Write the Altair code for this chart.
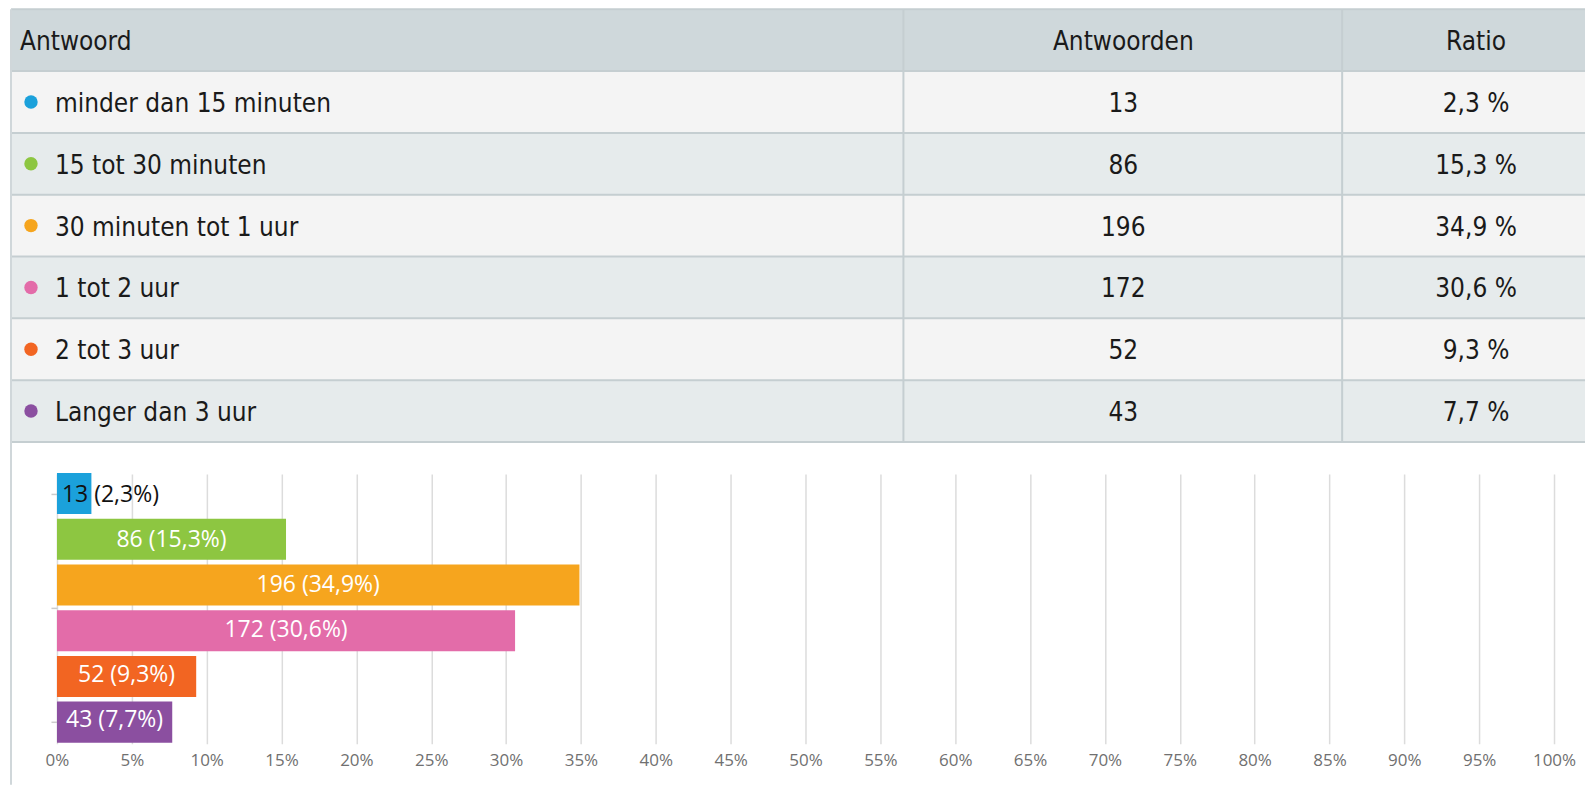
import altair as alt
import pandas as pd

# ---- data -------------------------------------------------------------
categories = ["minder dan 15 minuten", "15 tot 30 minuten", "30 minuten tot 1 uur",
              "1 tot 2 uur", "2 tot 3 uur", "Langer dan 3 uur"]
counts = [13, 86, 196, 172, 52, 43]
ratios = [2.3, 15.3, 34.9, 30.6, 9.3, 7.7]
colors = ["#1ba1db", "#8dc641", "#f6a51e", "#e36ca9", "#f26522", "#8b4fa0"]
headers = ["Antwoord", "Antwoorden", "Ratio"]
x_ticks = [0, 0.05, 0.10, 0.15, 0.20, 0.25, 0.30, 0.35, 0.40, 0.45, 0.50,
           0.55, 0.60, 0.65, 0.70, 0.75, 0.80, 0.85, 0.90, 0.95, 1.0]

# ---- style ------------------------------------------------------------
TABLE_FONT = "DejaVu Sans Condensed, Roboto, sans-serif"
BAR_FONT = "Open Sans"
HEADER_BG = "#cfd8db"
ROW_BG = ["#f4f4f4", "#e6ebec"]
BORDER = "#c5ced1"
TEXT = "#1a1a1a"
W = 1578

row_order = ["__header__"] + categories

body = pd.DataFrame({
    "row": categories,
    "count": counts,
    "ratio": ratios,
    "color": colors,
    "bg": [ROW_BG[i % 2] for i in range(len(categories))],
    "count_txt": [str(c) for c in counts],
    "ratio_txt": [f"{r:.1f} %".replace(".", ",") for r in ratios],
    "bar_txt": [f"{c} ({r:.1f}%)".replace(".", ",") for c, r in zip(counts, ratios)],
})
body["frac"] = body["ratio"] / 100.0
header = pd.DataFrame({
    "row": ["__header__"],
    "h1": [headers[0]], "h2": [headers[1]], "h3": [headers[2]],
    "bg": [HEADER_BG],
})
allrows = pd.DataFrame({"row": row_order})
one = pd.DataFrame({"a": [0]})

yscale = alt.Scale(domain=row_order, range=[1, 434], paddingInner=0, paddingOuter=0)
ty = alt.Y("row:N", scale=yscale, axis=None)

# ---- table --------------------------------------------------------------
hdr_rect = alt.Chart(header).mark_rect(strokeWidth=0).encode(
    y=ty, x=alt.value(3), x2=alt.value(W), fill=alt.Fill("bg:N", scale=None))
body_rect = alt.Chart(body).mark_rect(strokeWidth=0).encode(
    y=ty, x=alt.value(3), x2=alt.value(W), fill=alt.Fill("bg:N", scale=None))
hlines = alt.Chart(allrows).mark_rule(color=BORDER, strokeWidth=2).encode(
    y=alt.Y("row:N", scale=yscale, axis=None, bandPosition=0),
    x=alt.value(3), x2=alt.value(W))
bottom_line = alt.Chart(one).mark_rule(color=BORDER, strokeWidth=2).encode(
    y=alt.value(434), x=alt.value(3), x2=alt.value(W))
div1 = alt.Chart(one).mark_rule(color=BORDER, strokeWidth=2).encode(
    x=alt.value(896), y=alt.value(1), y2=alt.value(434))
div2 = alt.Chart(one).mark_rule(color=BORDER, strokeWidth=2).encode(
    x=alt.value(1335), y=alt.value(1), y2=alt.value(434))
left_border = alt.Chart(one).mark_rule(color="#d0d7da", strokeWidth=2).encode(
    x=alt.value(3), y=alt.value(1), y2=alt.value(777))

txt_kw = dict(font=TABLE_FONT, fontSize=26, color=TEXT, baseline="middle", dy=2)
h1 = alt.Chart(header).mark_text(align="left", **txt_kw).encode(
    y=ty, x=alt.value(12), text="h1:N")
h2 = alt.Chart(header).mark_text(align="center", **txt_kw).encode(
    y=ty, x=alt.value(1116), text="h2:N")
h3 = alt.Chart(header).mark_text(align="center", **txt_kw).encode(
    y=ty, x=alt.value(1469), text="h3:N")
bullets = alt.Chart(body).mark_circle(size=180, opacity=1).encode(
    y=ty, x=alt.value(23), color=alt.Color("color:N", scale=None))
labels = alt.Chart(body).mark_text(align="left", **txt_kw).encode(
    y=ty, x=alt.value(47), text="row:N")
cnt = alt.Chart(body).mark_text(align="center", **txt_kw).encode(
    y=ty, x=alt.value(1116), text="count_txt:N")
rat = alt.Chart(body).mark_text(align="center", **txt_kw).encode(
    y=ty, x=alt.value(1469), text="ratio_txt:N")

table = alt.layer(hdr_rect, body_rect, hlines, bottom_line, div1, div2, left_border,
                  h1, h2, h3, bullets, labels, cnt, rat).properties(width=W, height=434)

# ---- bar chart ----------------------------------------------------------
xscale = alt.Scale(domain=[0, 1], range=[49, 1547], nice=False, zero=True)
xaxis = alt.Axis(values=x_ticks, format=".0%", grid=True, gridColor="#dcdcdc",
                 gridWidth=1.5, domain=False, ticks=False, labelColor="#707070",
                 labelFont=BAR_FONT, labelFontSize=17, labelPadding=6, title=None,
                 labelFlush=False, labelOverlap=False)
by = alt.Y("row:N", scale=alt.Scale(domain=categories, range=[3, 273],
                                    paddingInner=0.1, paddingOuter=0), axis=None)

bars = alt.Chart(body).mark_bar().encode(
    x=alt.X("frac:Q", scale=xscale, axis=xaxis),
    y=by, color=alt.Color("color:N", scale=None))
inside = alt.Chart(body).transform_filter("datum.ratio >= 5").transform_calculate(
    mid="datum.frac / 2").mark_text(font=BAR_FONT, fontSize=23, color="white",
                                    align="center", baseline="middle").encode(
    x=alt.X("mid:Q", scale=xscale, axis=xaxis), y=by, text="bar_txt:N")
outside = alt.Chart(body).transform_filter("datum.ratio < 5").transform_calculate(
    zero="0").mark_text(font=BAR_FONT, fontSize=23, color="#111111",
                        align="left", baseline="middle", dx=5).encode(
    x=alt.X("zero:Q", scale=xscale, axis=xaxis), y=by, text="bar_txt:N")

tick_df = pd.DataFrame({"t": [0, 0.5, 1]})
yticks = alt.Chart(tick_df).mark_point(opacity=0).encode(
    x=alt.value(49),
    y=alt.Y("t:Q", scale=alt.Scale(domain=[0, 1], range=[24, 252]),
            axis=alt.Axis(values=[0, 0.5, 1], labels=False, domain=False, grid=False,
                          ticks=True, tickSize=6, tickColor="#cccccc", tickWidth=1.5,
                          offset=-49, title=None)))

barchart = alt.layer(bars, inside, outside, yticks).resolve_scale(
    y="independent").properties(width=W, height=277)

chart = alt.VConcatChart(vconcat=[table, barchart], spacing=28, bounds="flush").properties(
    padding=0, background="white").configure_view(stroke=None)

chart.save("out.html", embed_options={"renderer": "svg", "actions": False})
